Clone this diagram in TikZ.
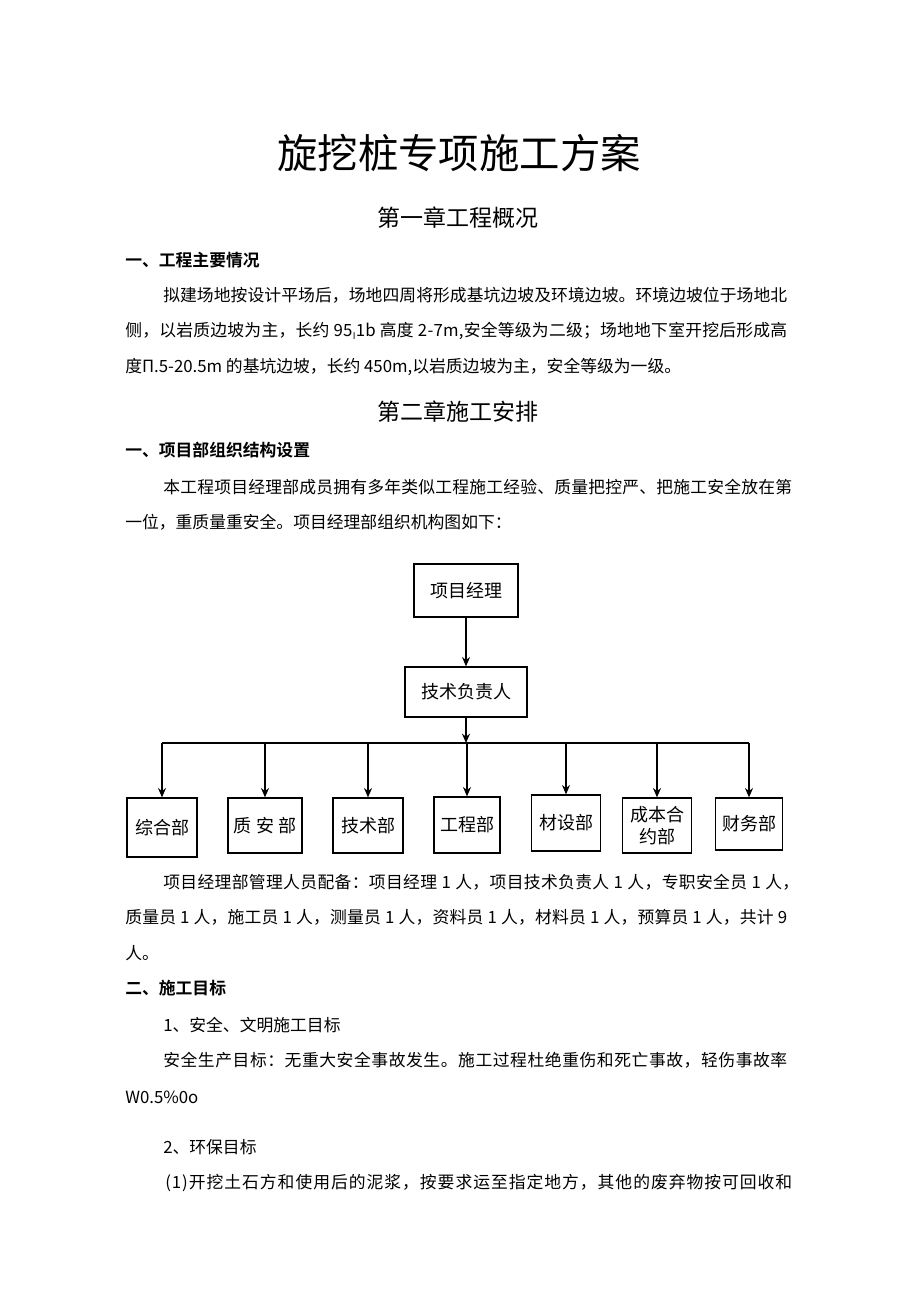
\documentclass[tikz,border=0pt]{standalone}
\usepackage{fontspec}
\setmainfont{Noto Sans CJK SC}[BoldFont={Noto Sans CJK SC Bold}]
\usetikzlibrary{arrows.meta}

% spread a line of single characters out to a given width
\def\spreadrest#1{\ifx#1\relax\else\hskip0pt plus 1fil#1\expandafter\spreadrest\fi}
\def\spreadchars#1{#1\spreadrest}
\newcommand{\fullline}[2]{\makebox[#1][s]{\spreadchars#2\relax}}
\newcommand{\subI}{\raisebox{-0.35ex}{\scriptsize I}}

\tikzset{
  txt/.style={anchor=west, inner sep=0pt, font=\fontsize{12.6pt}{14pt}\selectfont},
  hd/.style={txt, font=\fontsize{12.6pt}{14pt}\selectfont\bfseries},
  chap/.style={inner sep=0pt, font=\fontsize{17.25pt}{20pt}\selectfont},
  box/.style={draw, line width=0.95pt, inner sep=0pt, align=center, font=\fontsize{13.5pt}{17pt}\selectfont},
  bus/.style={line width=0.9pt},
  link/.style={-{Stealth[length=7pt,width=6pt]}, line width=1.1pt},
}

\begin{document}
\begin{tikzpicture}[x=0.75pt,y=-0.75pt]
  \useasboundingbox[fill=white] (0,0) rectangle (920,1301);

  % title and chapter one
  \node[inner sep=0pt, font=\fontsize{30.3pt}{34pt}\selectfont] (title) at (459,153) {旋挖桩专项施工方案};
  \node[chap] (ch1) at (458,218) {第一章工程概况};
  \node[hd] (sec11) at (125,260) {一、工程主要情况};
  \node[txt] (p1a) at (163,295) {\fullline{468pt}{拟建场地按设计平场后，场地四周将形成基坑边坡及环境边坡。环境边坡位于场地北}};
  \node[txt] (p1b) at (125,331) {\fullline{496.5pt}{侧，以岩质边坡为主，长约~95\subI1b~高度~2-7m,安全等级为二级；场地地下室开挖后形成高}};
  \node[txt] (p1c) at (125,367) {度Π.5-20.5m 的基坑边坡，长约 450m,以岩质边坡为主，安全等级为一级。};

  % chapter two
  \node[chap] (ch2) at (458,412) {第二章施工安排};
  \node[hd] (sec21) at (125,450) {一、项目部组织结构设置};
  \node[txt] (p2a) at (163,487) {\fullline{471.75pt}{本工程项目经理部成员拥有多年类似工程施工经验、质量把控严、把施工安全放在第}};
  \node[txt] (p2b) at (125,522) {一位，重质量重安全。项目经理部组织机构图如下：};

  % org chart
  \node[box, minimum width=78pt, minimum height=39.75pt] (pm) at (466,590.5) {项目经理};
  \node[box, minimum width=91.5pt, minimum height=37.5pt] (tech) at (466,692) {技术负责人};
  \node[box, minimum width=52.5pt, minimum height=44.25pt] (zonghe) at (162,827.5) {综合部};
  \node[box, minimum width=55.5pt, minimum height=41.25pt] (zhian) at (265,825.5) {质\ 安\ 部};
  \node[box, minimum width=52.5pt, minimum height=41.25pt] (jishu) at (368,825.5) {技术部};
  \node[box, minimum width=49.5pt, minimum height=42pt] (gongcheng) at (467,825) {工程部};
  \node[box, minimum width=51.75pt, minimum height=42pt] (caishe) at (566,823) {材设部};
  \node[box, minimum width=51.75pt, minimum height=41.25pt] (chengben) at (657,825.5) {成本合\\约部};
  \node[box, minimum width=50.25pt, minimum height=39pt] (caiwu) at (749,824) {财务部};

  \coordinate (busL) at (165,743);
  \coordinate (busR) at (748,743);
  \draw[bus] (busL -| zonghe.north) -- (busR -| caiwu.north);
  \path[link]
    (pm.south) edge (pm.south |- tech.north)
    (tech.south) edge (tech.south |- busL);
  \foreach \d in {zonghe,zhian,jishu,gongcheng,caishe,chengben,caiwu}
    \draw[link] (\d.north |- busL) -- (\d.north);

  % staffing and targets
  \node[txt] (p3a) at (163,882) {\fullline{477pt}{项目经理部管理人员配备：项目经理~1~人，项目技术负责人~1~人，专职安全员~1~人，}};
  \node[txt] (p3b) at (125,917) {\fullline{496.5pt}{质量员~1~人，施工员~1~人，测量员~1~人，资料员~1~人，材料员~1~人，预算员~1~人，共计~9}};
  \node[txt] (p3c) at (125,953) {人。};
  \node[hd] (sec22) at (125,988) {二、施工目标};
  \node[txt] (p4) at (163,1025) {1、安全、文明施工目标};
  \node[txt] (p5) at (163,1060) {\fullline{468pt}{安全生产目标：无重大安全事故发生。施工过程杜绝重伤和死亡事故，轻伤事故率}};
  \node[txt] (p6) at (125,1097) {W0.5\%0o};
  \node[txt] (p7) at (163,1147) {2、环保目标};
  \node[txt] (p8) at (165,1183) {\fullline{470.25pt}{(1)开挖土石方和使用后的泥浆，按要求运至指定地方，其他的废弃物按可回收和}};
\end{tikzpicture}
\end{document}
